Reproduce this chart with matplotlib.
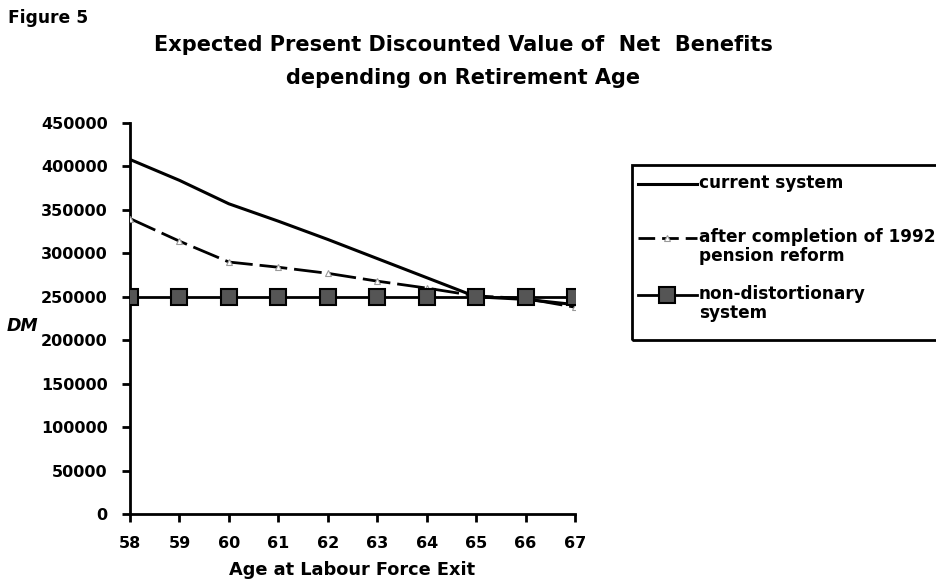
import matplotlib
matplotlib.use("Agg")
import matplotlib.pyplot as plt
from matplotlib.lines import Line2D
from matplotlib.patches import Rectangle

plt.rcParams['font.family'] = ['DejaVu Sans']
plt.rcParams['font.weight'] = 'bold'

ages = [58, 59, 60, 61, 62, 63, 64, 65, 66, 67]
current_system = [408000, 384000, 357000, 337000, 316000, 294000, 272000, 250000, 247000, 241000]
after_reform = [340000, 314000, 290000, 284000, 277000, 268000, 260000, 251000, 248000, 238000]
non_distortionary = [250000, 250000, 250000, 250000, 250000, 250000, 250000, 250000, 250000, 250000]
yticks = [0, 50000, 100000, 150000, 200000, 250000, 300000, 350000, 400000, 450000]
labels = ["current system", "after completion of 1992\npension reform", "non-distortionary\nsystem"]

W, H = 937, 583
fig = plt.figure(figsize=(W/100, H/100), dpi=100)
ax = fig.add_axes([130/W, 1-514/H, 445/W, 391/H])

ax.plot(ages, current_system, color='black', lw=2.2, zorder=3)
ax.plot(ages, after_reform, color='black', lw=2.0, ls=(0, (10, 2.5)), marker='^', ms=4,
        mfc='white', mec='#999999', mew=0.8, zorder=3)
ax.plot(ages, non_distortionary, color='black', lw=2.0, marker='s', ms=11,
        mfc='#555555', mec='black', mew=1.5, zorder=4)

ax.set_xlim(58, 67)
ax.set_ylim(0, 450000)
ax.set_xticks(ages)
ax.set_yticks(yticks)
ax.set_xticklabels([str(a) for a in ages], fontsize=11.5, fontweight='bold')
ax.set_yticklabels([str(v) for v in yticks], fontsize=11.5, fontweight='bold')
for s in ['top', 'right']:
    ax.spines[s].set_visible(False)
for s in ['left', 'bottom']:
    ax.spines[s].set_linewidth(2)
ax.tick_params(axis='both', direction='out', length=6, width=2)
ax.tick_params(axis='y', pad=10)
ax.tick_params(axis='x', pad=10)
ax.set_xlabel("Age at Labour Force Exit", fontsize=12.8, fontweight='bold', labelpad=7)

fig.text(463/W, 1-45/H, "Expected Present Discounted Value of  Net  Benefits",
         ha='center', va='center', fontsize=15, fontweight='bold')
fig.text(463/W, 1-78/H, "depending on Retirement Age",
         ha='center', va='center', fontsize=15, fontweight='bold')
fig.text(8/W, 1-18/H, "Figure 5", ha='left', va='center', fontsize=12.3, fontweight='bold')
fig.text(7/W, 1-326/H, "DM", ha='left', va='center', fontsize=12.5, fontweight='bold', style='italic')

# manual legend
fig.patches.append(Rectangle((632/W, 1-340/H), 330/W, 175/H, transform=fig.transFigure,
                             fill=False, ec='black', lw=2, clip_on=False))
rows = [184, 238, 295]
styles = [dict(color='black', lw=2.2),
          dict(color='black', lw=2.0, ls=(0, (6, 2.5)), marker='^', ms=4, mfc='white',
               mec='#999999', mew=0.8),
          dict(color='black', lw=2.0, marker='s', ms=11, mfc='#555555', mec='black', mew=1.5)]
for y, st, lab in zip(rows, styles, labels):
    fig.lines.append(Line2D([638/W, 667/W, 697/W], [1-y/H]*3, transform=fig.transFigure,
                            markevery=[1], **st))
    fig.text(699/W, 1-(y-10)/H, lab, ha='left', va='top', fontsize=12.2, fontweight='bold',
             linespacing=1.08)

fig.savefig("out.png", dpi=100)
